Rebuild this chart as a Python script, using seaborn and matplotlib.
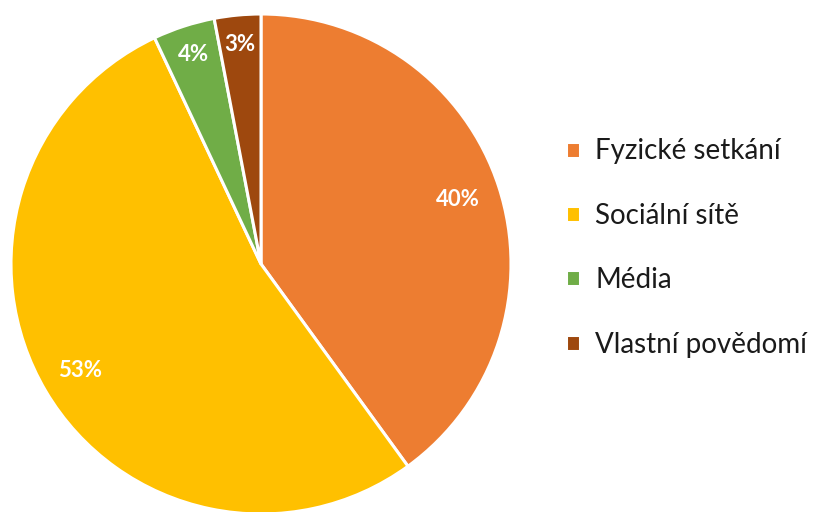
import matplotlib
matplotlib.use("Agg")
import matplotlib.pyplot as plt
import seaborn as sns

# data
categories = ["Fyzické setkání", "Sociální sítě", "Média", "Vlastní povědomí"]
shares = [40, 53, 4, 3]
colors = ["#ED7D31", "#FFC000", "#70AD47", "#9E480E"]

sns.set_theme(style="white")
plt.rcParams["font.family"] = ["Lato", "DejaVu Sans"]

W, H = 820, 512
fig = plt.figure(figsize=(W / 100, H / 100), dpi=100)

# pie centre ~ (261, 264) px, radius ~250 px
cx, cy, r = 261, 264, 250
ax = fig.add_axes([(cx - r) / W, 1 - (cy + r) / H, 2 * r / W, 2 * r / H])

wedges, texts, autotexts = ax.pie(
    shares, colors=colors, startangle=90, counterclock=False,
    autopct=lambda p: f"{round(p)}%", pctdistance=0.84,
    wedgeprops=dict(edgecolor="white", linewidth=2.2),
    textprops=dict(color="white", fontsize=16, fontweight="bold"),
)
for t, d in zip(autotexts, [0.83, 0.84, 0.88, 0.88]):
    x, y = t.get_position()
    k = d / 0.84
    t.set_position((x * k, y * k))
ax.set_xlim(-1, 1)
ax.set_ylim(-1, 1)
ax.set_aspect("equal")

fig.legend(
    wedges, categories, loc="center left",
    bbox_to_anchor=(541 / W, 1 - 248 / H),
    frameon=False, fontsize=20, handlelength=0.5, handleheight=0.5,
    handletextpad=0.55, labelspacing=1.38, labelcolor="#1a1a1a",
)

fig.savefig("out.png", dpi=100)
